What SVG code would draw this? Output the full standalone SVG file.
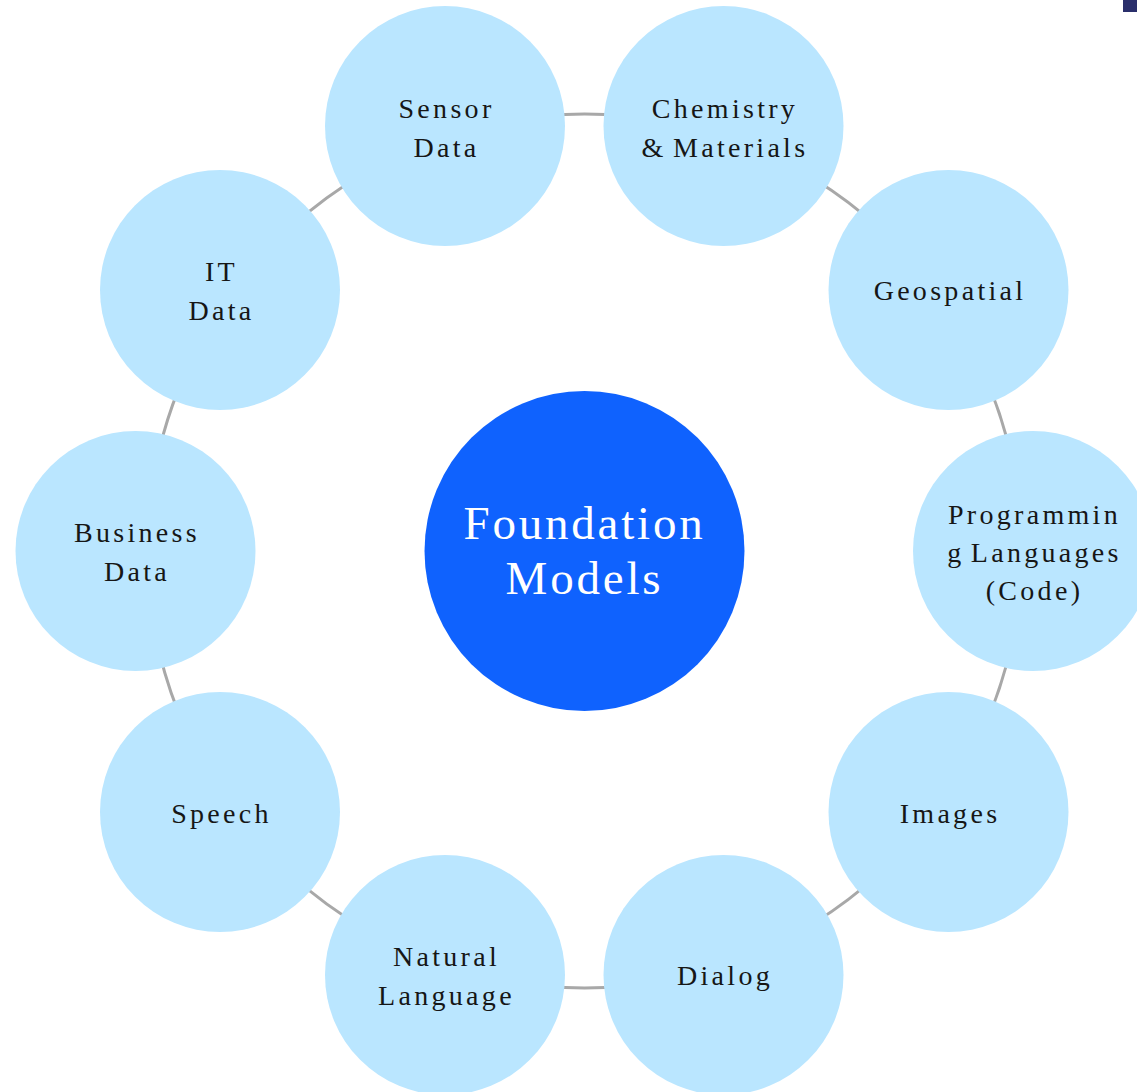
<svg xmlns="http://www.w3.org/2000/svg" width="1137" height="1092" viewBox="0 0 1137 1092">
<style>
.n{fill:#BAE6FF}
.t{font-family:"Liberation Serif","Times New Roman",serif;font-size:28px;fill:#161616;text-anchor:middle;letter-spacing:3.3px;word-spacing:-4px}
.c{font-family:"Liberation Serif","Times New Roman",serif;font-size:47px;fill:#ffffff;text-anchor:middle;letter-spacing:2.8px}
</style>
<rect width="1137" height="1092" fill="#ffffff"/>
<rect x="1123" y="0" width="14" height="12" fill="#2A2F6B"/>
<g id="connectors">
<circle cx="584.5" cy="551" r="437" fill="none" stroke="#A8A8A8" stroke-width="3"/>
</g>
<g id="center">
<circle cx="584.5" cy="551" r="160" fill="#0F62FE"/>
<text class="c" x="584.5" y="539">Foundation</text>
<text class="c" x="584.5" y="594">Models</text>
</g>
<g id="sensor">
<circle class="n" cx="445" cy="126" r="120"/>
<text class="t" x="446.5" y="118">Sensor</text>
<text class="t" x="446.5" y="157">Data</text>
</g>
<g id="chemistry">
<circle class="n" cx="723.5" cy="126" r="120"/>
<text class="t" x="725" y="118">Chemistry</text>
<text class="t" x="725" y="157">&amp; Materials</text>
</g>
<g id="geospatial">
<circle class="n" cx="948.5" cy="290" r="120"/>
<text class="t" x="950" y="300">Geospatial</text>
</g>
<g id="programming">
<circle class="n" cx="1033" cy="551" r="120"/>
<text class="t" x="1034.5" y="524">Programmin</text>
<text class="t" x="1034.5" y="562">g Languages</text>
<text class="t" x="1034.5" y="600">(Code)</text>
</g>
<g id="images">
<circle class="n" cx="948.5" cy="812" r="120"/>
<text class="t" x="950" y="823">Images</text>
</g>
<g id="dialog">
<circle class="n" cx="723.5" cy="975" r="120"/>
<text class="t" x="725" y="985">Dialog</text>
</g>
<g id="natural-language">
<circle class="n" cx="445" cy="975" r="120"/>
<text class="t" x="446.5" y="966">Natural</text>
<text class="t" x="446.5" y="1005">Language</text>
</g>
<g id="speech">
<circle class="n" cx="220" cy="812" r="120"/>
<text class="t" x="221.5" y="823">Speech</text>
</g>
<g id="business">
<circle class="n" cx="135.5" cy="551" r="120"/>
<text class="t" x="137" y="542">Business</text>
<text class="t" x="137" y="581">Data</text>
</g>
<g id="it">
<circle class="n" cx="220" cy="290" r="120"/>
<text class="t" x="221.5" y="281">IT</text>
<text class="t" x="221.5" y="320">Data</text>
</g>
</svg>
